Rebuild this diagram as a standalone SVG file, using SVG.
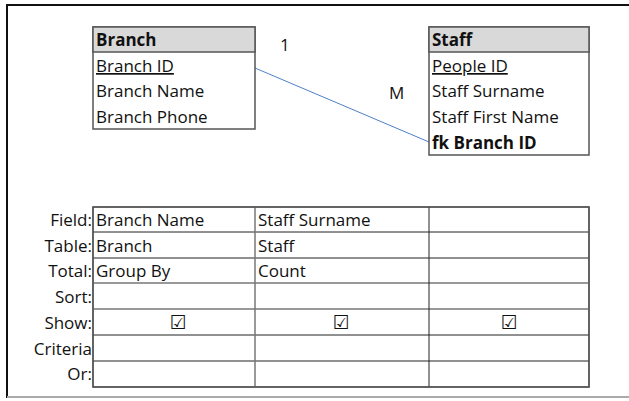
<svg xmlns="http://www.w3.org/2000/svg" width="629" height="401" viewBox="0 0 629 401">
  <style>
    text { font-family: "Open Sans", "Liberation Sans", sans-serif; font-size: 17px; fill: #111; }
    .b { font-weight: bold; }
    .u { text-decoration: underline; }
    .lbl { text-anchor: end; }
    .chk { font-family: "DejaVu Sans", sans-serif; font-size: 19px; text-anchor: middle; }
    .box { fill: #fff; stroke: #555; stroke-width: 1.5; }
    .hdr { fill: #d9d9d9; stroke: #555; stroke-width: 1.5; }
    .grid { stroke: #222; stroke-width: 1; fill: none; }
    .gridg { stroke: #777; stroke-width: 1.5; fill: none; }
  </style>

  <!-- outer frame -->
  <rect x="0" y="0" width="629" height="401" fill="#fff"/>
  <path d="M7 398 V5 H629" fill="none" stroke="#111" stroke-width="2"/>
  <path d="M7 397 H629" fill="none" stroke="#aaa" stroke-width="2"/>

  <!-- relationship connector -->
  <g id="connectors">
    <line x1="255" y1="68" x2="429" y2="142" stroke="#4f7fc9" stroke-width="1"/>
    <text x="280" y="51">1</text>
    <text x="389" y="99">M</text>
  </g>

  <!-- Branch table -->
  <g id="branch">
    <rect class="box" x="93" y="27" width="162" height="102"/>
    <rect class="hdr" x="93" y="27" width="162" height="25"/>
    <text class="b" x="96" y="46">Branch</text>
    <text class="u" x="96" y="72">Branch ID</text>
    <text x="96" y="97">Branch Name</text>
    <text x="96" y="123">Branch Phone</text>
  </g>

  <!-- Staff table -->
  <g id="staff">
    <rect class="box" x="429" y="27" width="160" height="128"/>
    <rect class="hdr" x="429" y="27" width="160" height="25"/>
    <text class="b" x="432" y="46">Staff</text>
    <text class="u" x="432" y="72">People ID</text>
    <text x="432" y="97">Staff Surname</text>
    <text x="432" y="123">Staff First Name</text>
    <text class="b" x="432" y="149">fk Branch ID</text>
  </g>

  <!-- query design grid -->
  <g id="query-grid">
    <rect class="grid" x="93" y="207" width="496" height="180"/>
    <line class="grid" x1="93" y1="232" x2="589" y2="232"/>
    <line class="grid" x1="93" y1="258" x2="589" y2="258"/>
    <line class="gridg" x1="93" y1="283" x2="589" y2="283"/>
    <line class="gridg" x1="93" y1="309" x2="589" y2="309"/>
    <line class="grid" x1="93" y1="335" x2="589" y2="335"/>
    <line class="grid" x1="93" y1="361" x2="589" y2="361"/>
    <line class="gridg" x1="255" y1="207" x2="255" y2="387"/>
    <line class="grid" x1="429" y1="207" x2="429" y2="387"/>
    <rect x="93" y="207" width="496" height="180" fill="none" stroke="#555" stroke-width="1.5"/>

    <text class="lbl" x="92" y="226">Field:</text>
    <text class="lbl" x="92" y="252">Table:</text>
    <text class="lbl" x="92" y="277">Total:</text>
    <text class="lbl" x="92" y="303">Sort:</text>
    <text class="lbl" x="92" y="329">Show:</text>
    <text class="lbl" x="92" y="355">Criteria</text>
    <text class="lbl" x="92" y="380">Or:</text>

    <text x="96" y="226">Branch Name</text>
    <text x="258" y="226">Staff Surname</text>
    <text x="96" y="252">Branch</text>
    <text x="258" y="252">Staff</text>
    <text x="96" y="277">Group By</text>
    <text x="258" y="277">Count</text>

    <text class="chk" x="178" y="329">☑</text>
    <text class="chk" x="341" y="329">☑</text>
    <text class="chk" x="509" y="329">☑</text>
  </g>
</svg>
